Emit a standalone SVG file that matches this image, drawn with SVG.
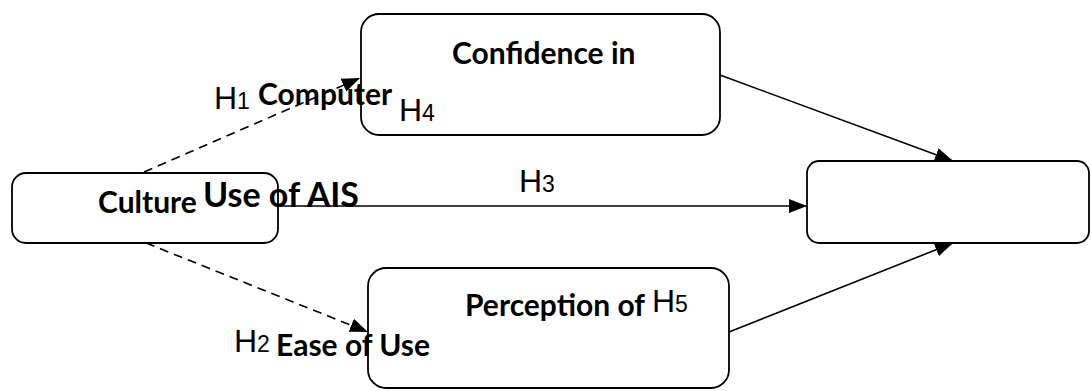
<svg xmlns="http://www.w3.org/2000/svg" width="1091" height="391" viewBox="0 0 1091 391">
<style>
.box{fill:none;stroke:#000;stroke-width:1.8}
.lbl{font-family:Lato,"Liberation Sans",sans-serif;font-weight:bold;font-size:30px;fill:#000}
.h{font-family:"Liberation Sans",Arial,sans-serif;font-size:32px;fill:#000}
.sub{font-size:23px}
.edge{fill:none;stroke:#000;stroke-width:1.6}
.dash{stroke-dasharray:9 6}
</style>
<defs>
<marker id="arr" markerUnits="userSpaceOnUse" markerWidth="20" markerHeight="16" refX="18" refY="7" orient="auto">
<path d="M0,0 L18,7 L0,14 z" fill="#000"/>
</marker>
</defs>
<rect width="1091" height="391" fill="#fff"/>
<g id="culture">
<text class="lbl" x="98" y="213">Culture</text>
<rect class="box" x="12" y="173" width="266" height="70" rx="14"/>
</g>
<g id="confidence">
<text class="lbl" x="452" y="64">Confidence in</text>
<text class="lbl" x="258" y="105">Computer</text>
<rect class="box" x="361" y="14" width="359" height="121" rx="18"/>
</g>
<g id="perception">
<text class="lbl" x="465" y="316">Perception of</text>
<text class="lbl" x="276" y="356">Ease of Use</text>
<rect class="box" x="368" y="268" width="361" height="120" rx="18"/>
</g>
<g id="use-of-ais">
<text class="lbl" x="203" y="207" style="font-size:34px">Use of AIS</text>
<rect class="box" x="807" y="161" width="282" height="82" rx="12"/>
</g>
<g id="connectors">
<line class="edge dash" x1="144" y1="172" x2="360" y2="78" marker-end="url(#arr)"/>
<line class="edge dash" x1="146" y1="243" x2="368" y2="332" marker-end="url(#arr)"/>
<line class="edge" x1="278" y1="206" x2="807" y2="206" marker-end="url(#arr)"/>
<line class="edge" x1="720" y1="75" x2="953" y2="161" marker-end="url(#arr)"/>
<line class="edge" x1="729" y1="332" x2="953" y2="243" marker-end="url(#arr)"/>
<text class="h" x="214" y="109">H<tspan class="sub">1</tspan></text>
<text class="h" x="234" y="352">H<tspan class="sub">2</tspan></text>
<text class="h" x="519" y="192">H<tspan class="sub">3</tspan></text>
<text class="h" x="399" y="121">H<tspan class="sub">4</tspan></text>
<text class="h" x="652" y="312">H<tspan class="sub">5</tspan></text>
</g>
</svg>
